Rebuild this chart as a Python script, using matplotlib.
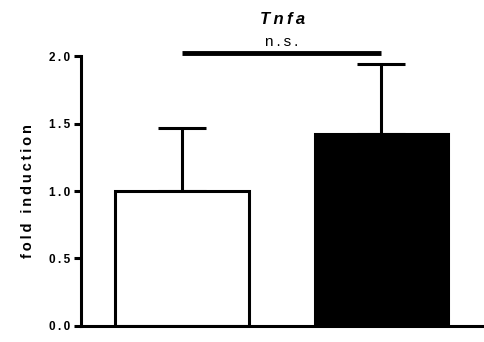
import matplotlib
matplotlib.use("Agg")
import matplotlib.pyplot as plt

plt.rcParams["font.family"] = ["Liberation Sans", "DejaVu Sans"]

# Data
groups = ["control", "treated"]
means = [1.0, 1.42]
errors = [0.47, 0.52]
colors = ["white", "black"]
yticks = [0.0, 0.5, 1.0, 1.5, 2.0]


def spread(s, gap="\u2009"):
    # wide letter spacing like the original figure
    return gap.join(s)


fig = plt.figure(figsize=(4.85, 3.42), dpi=100)
ax = fig.add_axes([0.167, 0.047, 0.831, 0.789])

x = range(len(groups))
ax.bar(x, means, width=0.67, color=colors, edgecolor="black", linewidth=2.2, zorder=2)
ax.errorbar(x, means, yerr=[[0, 0], errors], fmt="none", ecolor="black",
            elinewidth=2.2, capsize=17, capthick=2.2, zorder=1)

ax.set_xlim(-0.506, 1.514)
ax.set_ylim(0, 2.0)
ax.set_yticks(yticks)
ax.set_yticklabels([spread(f"{t:.1f}") for t in yticks], fontweight="bold", fontsize=8.5)
ax.set_xticks([])
ax.set_ylabel(spread("fold induction"), fontweight="bold", fontsize=10.5, labelpad=10)

for s in ["top", "right"]:
    ax.spines[s].set_visible(False)
ax.spines["left"].set_linewidth(2.2)
ax.spines["bottom"].set_linewidth(2.2)
ax.tick_params(axis="y", width=2.2, length=5, direction="out", pad=3)

# significance bar
ax.plot([0, 1], [2.02, 2.02], color="black", linewidth=3.5, clip_on=False, solid_capstyle="butt")
ax.text(0.5, 2.05, spread("n.s."), ha="center", va="bottom", fontsize=11)

ax.set_title(spread("Tnfa"), fontweight="bold", style="italic", fontsize=12, pad=23)

fig.savefig("out.png")
